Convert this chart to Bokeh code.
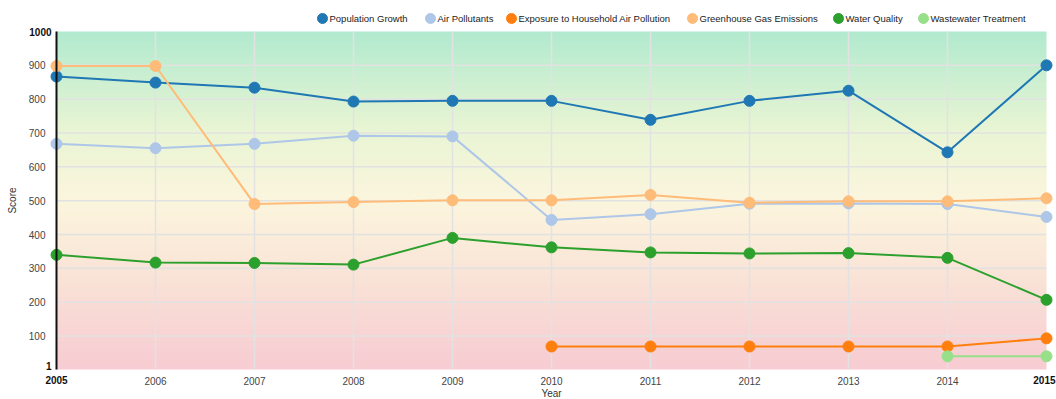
import numpy as np
from bokeh.plotting import figure
from bokeh.models import FixedTicker, Label, Range1d
from bokeh.core.properties import value
from bokeh.embed import file_html
from bokeh.resources import INLINE

# Environmental indicator scores by year
years = [2005, 2006, 2007, 2008, 2009, 2010, 2011, 2012, 2013, 2014, 2015]
population_growth = [867, 849, 834, 793, 795, 795, 739, 795, 825, 643, 900]
air_pollutants = [668, 655, 668, 692, 690, 443, 460, 491, 492, 490, 452]
household_years = [2010, 2011, 2012, 2013, 2014, 2015]
household_air = [69, 69, 69, 69, 69, 93]
greenhouse_gas = [898, 898, 490, 496, 501, 501, 517, 494, 498, 498, 507]
water_quality = [340, 317, 316, 311, 390, 362, 347, 344, 345, 331, 207]
wastewater_years = [2014, 2015]
wastewater = [40, 40]

y_ticks = [100, 200, 300, 400, 500, 600, 700, 800, 900]
x_ticks = [2006, 2007, 2008, 2009, 2010, 2011, 2012, 2013, 2014]
x_min, x_max = 2005, 2015
y_min, y_max = 1, 1000

series = [
    ("Population Growth", years, population_growth, "#1f77b4"),
    ("Air Pollutants", years, air_pollutants, "#aec7e8"),
    ("Exposure to Household Air Pollution", household_years, household_air, "#ff7f0e"),
    ("Greenhouse Gas Emissions", years, greenhouse_gas, "#ffbb78"),
    ("Water Quality", years, water_quality, "#2ca02c"),
    ("Wastewater Treatment", wastewater_years, wastewater, "#98df8a"),
]
# horizontal pixel position of each legend swatch along the top row
legend_px = [322, 430, 511, 692, 838, 923]

FONT = "Liberation Sans"
W, H = 1056, 399
# plot area margins in pixels (left, right, top, bottom)
ML, MR, MT, MB = 56, 10, 31, 30

# The frame spans the whole canvas so that titles, legend and end labels
# can sit around the data area; axes are pinned to the data area edges.
px_x = (x_max - x_min) / (W - ML - MR)
px_y = (y_max - y_min) / (H - MT - MB)
x_range = Range1d(x_min - ML * px_x, x_max + MR * px_x)
y_range = Range1d(y_min - MB * px_y, y_max + MT * px_y)


def sx(px):
    return x_min + (px - ML) * px_x


def sy(py):
    return y_max - (py - MT) * px_y


p = figure(width=W, height=H, x_range=x_range, y_range=y_range,
           output_backend="svg", toolbar_location=None,
           min_border=0, outline_line_color=None,
           background_fill_color="white", border_fill_color="white")
p.xgrid.visible = False
p.ygrid.visible = False

# green -> cream -> pink background wash behind the data area
stops = np.array([0.0, 0.3, 0.5, 0.72, 1.0])
cols = np.array([
    [247, 204, 210],
    [250, 230, 216],
    [252, 246, 222],
    [232, 245, 212],
    [178, 234, 207],
], dtype=float)
n = 256
t = np.linspace(0, 1, n)
rgb = np.stack([np.interp(t, stops, cols[:, k]) for k in range(3)], axis=1).astype(np.uint32)
row = (255 << 24) | (rgb[:, 2] << 16) | (rgb[:, 1] << 8) | rgb[:, 0]
img = np.repeat(row[:, None], 4, axis=1).astype(np.uint32)
bg = p.image_rgba(image=[img], x=x_min, y=y_min, dw=x_max - x_min, dh=y_max - y_min)
bg.level = "image"

# grid lines limited to the data area
grid_kw = dict(line_color="#e2e2e2", line_width=1.5, level="underlay")
p.segment(x0=x_ticks, y0=[y_min] * len(x_ticks), x1=x_ticks, y1=[y_max] * len(x_ticks), **grid_kw)
p.segment(x0=[x_min] * len(y_ticks), y0=y_ticks, x1=[x_max] * len(y_ticks), y1=y_ticks, **grid_kw)

# axes
p.xaxis.ticker = FixedTicker(ticks=x_ticks)
p.yaxis.ticker = FixedTicker(ticks=y_ticks)
p.xaxis.fixed_location = y_min
p.yaxis.fixed_location = x_min
p.xaxis.bounds = (x_min, x_max)
p.yaxis.bounds = (y_min, y_max)
for ax in (p.xaxis, p.yaxis):
    ax.major_tick_line_color = None
    ax.minor_tick_line_color = None
    ax.major_label_text_font = FONT
    ax.major_label_text_font_size = "10px"
    ax.major_label_text_color = "#444444"
p.xaxis.axis_line_color = None
p.xaxis.major_label_standoff = 1
p.yaxis.axis_line_color = "#111111"
p.yaxis.axis_line_width = 2
p.yaxis.major_label_standoff = 5

# bold end labels of both axes
for txt, x, y, xo, yo, align, base in [
    ("1000", x_min, y_max, -5, 0, "right", "middle"),
    ("1", x_min, y_min, -5, 4, "right", "middle"),
    (str(x_min), x_min, y_min, 0, -6, "center", "top"),
    (str(x_max), x_max, y_min, 9, -6, "right", "top"),
]:
    p.add_layout(Label(x=x, y=y, x_offset=xo, y_offset=yo, text=txt,
                       text_font=FONT, text_font_size="10px",
                       text_font_style="bold", text_color="#111111",
                       text_align=align, text_baseline=base))

# axis titles
p.add_layout(Label(x=x_min - 44 * px_x, y=(y_min + y_max) / 2, text="Score",
                   angle=np.pi / 2, text_font=FONT, text_font_size="10px",
                   text_color="#333333", text_align="center", text_baseline="middle"))
p.add_layout(Label(x=(x_min + x_max) / 2, y=y_min - 24 * px_y, text="Year",
                   text_font=FONT, text_font_size="10px", text_color="#333333",
                   text_align="center", text_baseline="middle"))

for name, xs, ys, color in series:
    p.line(xs, ys, line_color=color, line_width=2)
    p.scatter(xs, ys, size=11, fill_color=color, line_color=color)

# legend row above the data area
leg_x = [sx(v) for v in legend_px]
leg_y = sy(18)
p.scatter(leg_x, [leg_y] * len(leg_x), size=10,
          fill_color=[s[3] for s in series], line_color=[s[3] for s in series])
p.text([sx(v + 7) for v in legend_px], [leg_y] * len(leg_x),
       text=[s[0] for s in series], text_font=value(FONT), text_font_size="9.5px",
       text_color="#222222", text_baseline="middle", text_align="left")

open("out.html", "w").write(file_html(p, INLINE))
